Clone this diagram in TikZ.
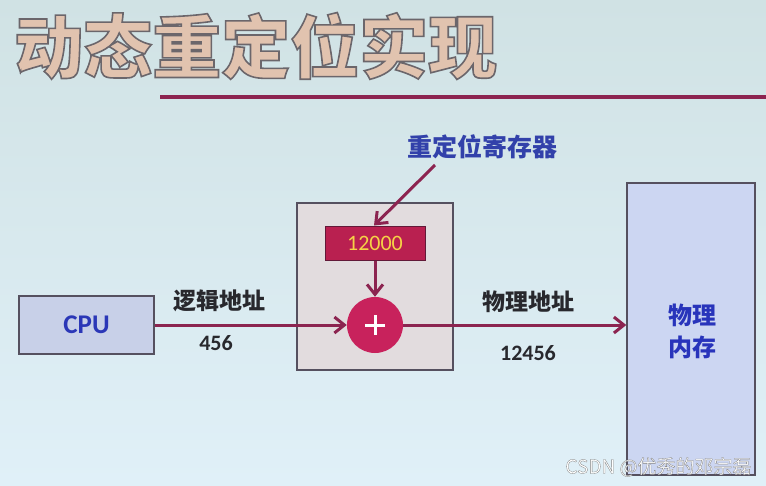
\documentclass[tikz,border=0pt]{standalone}
\usepackage{fontspec}
\setmainfont{Carlito}
\newfontfamily\cjk{Noto Sans CJK SC}
\usetikzlibrary{arrows.meta}
\definecolor{bgtop}{RGB}{208,226,228}
\definecolor{bgbot}{RGB}{224,240,248}
\definecolor{wine}{RGB}{140,36,80}
\definecolor{crim}{RGB}{185,32,80}
\definecolor{circ}{RGB}{200,34,92}
\definecolor{lblue}{RGB}{50,65,170}
\definecolor{cpufill}{RGB}{200,208,232}
\definecolor{memfill}{RGB}{204,214,242}
\definecolor{boxfill}{RGB}{226,220,222}
\definecolor{edge}{RGB}{85,80,95}
\definecolor{ttl}{RGB}{225,195,175}
\definecolor{txt}{RGB}{40,40,45}
\definecolor{ylw}{RGB}{245,210,70}
\newcommand{\outlinedtext}[1]{\special{pdf:literal direct 2 Tr 1.6 w 0.42 0.40 0.42 RG}#1\special{pdf:literal direct 0 Tr}}
\tikzset{
  conn/.style={draw=wine, line width=3pt, -{Straight Barb[length=10pt,width=16pt,line width=3pt]}},
  cnlabel/.style={font=\cjk\bfseries\fontsize{23}{26}\selectfont, text=txt},
  numlabel/.style={font=\bfseries\fontsize{22}{24}\selectfont, text=txt},
}
\begin{document}
\begin{tikzpicture}[x=1pt,y=-1pt]
\useasboundingbox (0,0) rectangle (766,485);
\shade[top color=bgtop, bottom color=bgbot] (0,0) rectangle (766,485);
% title
\node[font=\cjk\bfseries\fontsize{69}{74}\selectfont, anchor=west, inner sep=0pt, text=ttl] (title) at (14,46) {\outlinedtext{动态重定位实现}};
% rule
\coordinate (ruleA) at (160,97);
\coordinate (ruleB) at (766,97);
\draw[wine, line width=3.5pt] (ruleA) -- (ruleB);
% boxes
\node[draw=edge, fill=boxfill, line width=1.2pt, minimum width=156pt, minimum height=167pt, inner sep=0pt] (unit) at (375,286.5) {};
\node[draw=edge, fill=cpufill, line width=1.4pt, minimum width=135pt, minimum height=58pt, inner sep=0pt,
      font=\bfseries\fontsize{27}{30}\selectfont, text=lblue!85!blue] (cpu) at (86.5,325) {CPU};
\node[draw=edge, fill=memfill, line width=1.4pt, minimum width=128pt, minimum height=292pt, inner sep=0pt] (mem) at (691,329) {};
\node[font=\cjk\bfseries\fontsize{24}{32}\selectfont, text=lblue!80!blue, align=center] (memtxt) at (692,331) {物理\\内存};
\node[draw=wine!70!black, fill=crim, line width=1pt, minimum width=100pt, minimum height=34pt, inner sep=0pt,
      font=\fontsize{22}{24}\selectfont, text=ylw] (reg) at (375,243) {12000};
\node[circle, fill=circ, minimum size=56pt, inner sep=0pt] (add) at (375,325) {};
\draw[white, line width=3pt] ([xshift=-10pt]add.center) -- ([xshift=10pt]add.center);
\draw[white, line width=3pt] ([yshift=-10pt]add.center) -- ([yshift=10pt]add.center);
% labels
\node[font=\cjk\bfseries\fontsize{25}{28}\selectfont, text=lblue] (reglbl) at (482,147) {重定位寄存器};
\node[cnlabel] (logl) at (219,301) {逻辑地址};
\node[numlabel] (logn) at (216,343) {456};
\node[cnlabel] (phyl) at (528,302) {物理地址};
\node[numlabel] (phyn) at (528,353) {12456};
% connectors
\coordinate (regsrc) at (435,165);
\draw[conn] (regsrc) -- ([xshift=-1pt]reg.north);
\draw[conn] (reg.south) -- (add.north);
\draw[conn] (cpu.east) -- (add.west);
\draw[conn] (add.east) -- (add.east -| mem.west);
% watermark
\node[font=\cjk\fontsize{19}{22}\selectfont, text=white, anchor=east] (wm) at (755,467) {\special{pdf:literal direct 2 Tr 0.3 w 0.5 0.5 0.5 RG}CSDN @优秀的邓宗磊\special{pdf:literal direct 0 Tr}};
\end{tikzpicture}
\end{document}
